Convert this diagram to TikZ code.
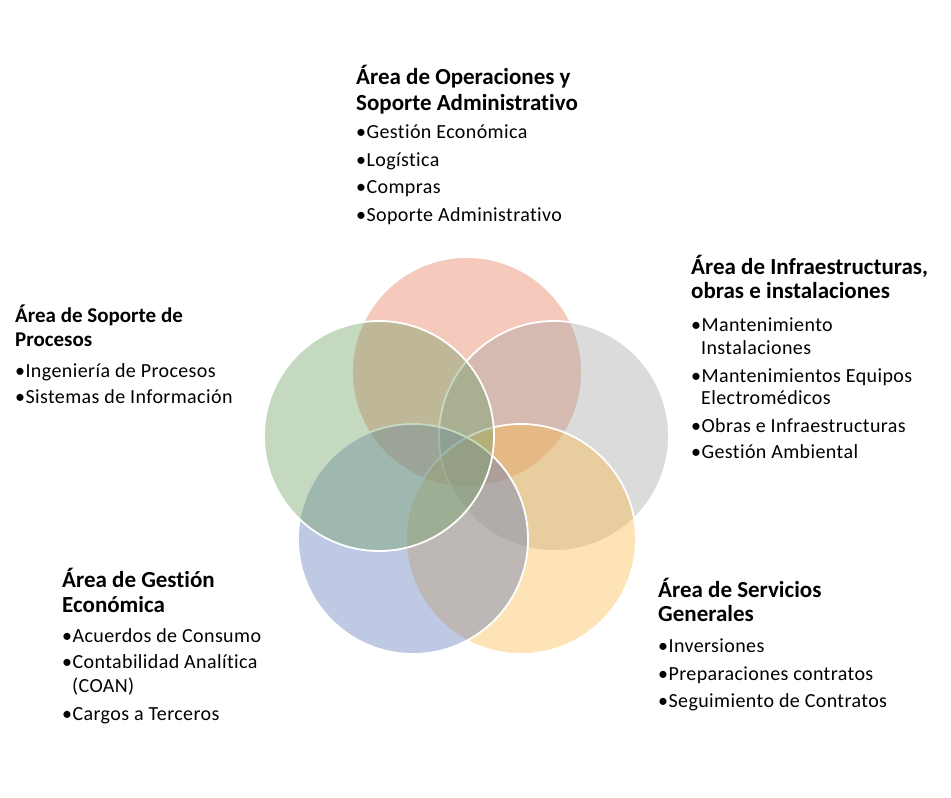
\documentclass[tikz,border=0pt]{standalone}
\usepackage{fontspec}
\setmainfont{Carlito}[Ligatures={NoCommon,TeX}]
\definecolor{cTop}{RGB}{232,120,85}
\definecolor{cGray}{RGB}{165,165,165}
\definecolor{cGold}{RGB}{252,185,70}
\definecolor{cBlue}{RGB}{95,120,185}
\definecolor{cGreen}{RGB}{110,160,100}
\tikzset{
  ttl/.style={anchor=base west, inner sep=0pt, font=\fontsize{23bp}{26bp}\selectfont\bfseries},
  ttls/.style={anchor=base west, inner sep=0pt, font=\fontsize{21bp}{24bp}\selectfont\bfseries},
  itm/.style={anchor=base west, inner sep=0pt, font=\fontsize{20bp}{24bp}\selectfont\addfontfeature{LetterSpace=2}},
  venn/.style={circle, minimum size=230bp, inner sep=0pt, fill opacity=0.4, draw=white, draw opacity=1, line width=1.8bp},
}
\newcommand{\bul}{\textbullet}
\newcommand{\nobul}{\phantom{\textbullet}}
\begin{document}
\begin{tikzpicture}[x=1bp,y=-1bp]
\useasboundingbox (0,0) rectangle (951,798);
\fill[white] (0,0) rectangle (951,798);
% circles
\node[venn, fill=cTop]   (c1) at (467,372) {};
\node[venn, fill=cGray]  (c2) at (554,436) {};
\node[venn, fill=cGold]  (c3) at (521,539) {};
\node[venn, fill=cBlue]  (c4) at (413,539) {};
\node[venn, fill=cGreen] (c5) at (379,436) {};
% top block
\node[ttl] (t1a) at (356,85) {Área de Operaciones y};
\node[ttl] (t1b) at (356,110) {Soporte Administrativo};
\node[itm] (i1a) at (356,138) {\bul Gestión Económica};
\node[itm] (i1b) at (356,166) {\bul Logística};
\node[itm] (i1c) at (356,193) {\bul Compras};
\node[itm] (i1d) at (356,221) {\bul Soporte Administrativo};
% right block
\node[ttl] (t2a) at (691,274) {Área de Infraestructuras,};
\node[ttl] (t2b) at (691,298) {obras e instalaciones};
\node[itm] (i2a) at (691,331) {\bul Mantenimiento};
\node[itm] (i2b) at (691,354) {\nobul Instalaciones};
\node[itm] (i2c) at (691,382) {\bul Mantenimientos Equipos};
\node[itm] (i2d) at (691,404) {\nobul Electromédicos};
\node[itm] (i2e) at (691,432) {\bul Obras e Infraestructuras};
\node[itm] (i2f) at (691,458) {\bul Gestión Ambiental};
% left block
\node[ttls] (t3a) at (15,322) {Área de Soporte de};
\node[ttls] (t3b) at (15,346) {Procesos};
\node[itm] (i3a) at (15,377) {\bul Ingeniería de Procesos};
\node[itm] (i3b) at (15,403) {\bul Sistemas de Información};
% bottom-left block
\node[ttl] (t4a) at (62,587) {Área de Gestión};
\node[ttl] (t4b) at (62,612) {Económica};
\node[itm] (i4a) at (62,642) {\bul Acuerdos de Consumo};
\node[itm] (i4b) at (62,668) {\bul Contabilidad Analítica};
\node[itm] (i4c) at (62,692) {\nobul (COAN)};
\node[itm] (i4d) at (62,720) {\bul Cargos a Terceros};
% bottom-right block
\node[ttl] (t5a) at (658,597) {Área de Servicios};
\node[ttl] (t5b) at (658,621) {Generales};
\node[itm] (i5a) at (658,652) {\bul Inversiones};
\node[itm] (i5b) at (658,680) {\bul Preparaciones contratos};
\node[itm] (i5c) at (658,707) {\bul Seguimiento de Contratos};
\end{tikzpicture}
\end{document}
